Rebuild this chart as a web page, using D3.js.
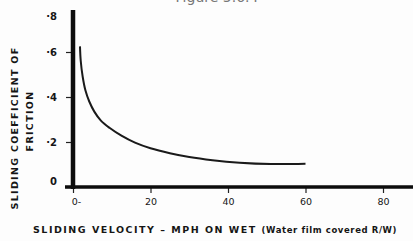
<!DOCTYPE html>
<html>
<head>
<meta charset="utf-8">
<script src="https://cdn.jsdelivr.net/npm/d3@7"></script>
<style>
  body { margin: 0; background: #fdfdfd; }
  svg { display: block; }
  text { font-family: "DejaVu Sans", sans-serif; fill: #151515; }
</style>
</head>
<body>
<div id="chart"></div>
<script>
// data
let xTicks = [0, 20, 40, 60, 80];
let yTicks = [0, 0.2, 0.4, 0.6, 0.8];
let yTickLabels = ["0", "\u00b72", "\u00b74", "\u00b76", "\u00b78"];
let velocity = [1.8, 2.0, 2.5, 3.2, 4.2, 5.5, 7.2, 9.5, 12.5, 16, 20, 25, 30, 36, 43, 51, 60];
let friction = [0.625, 0.56, 0.49, 0.43, 0.38, 0.335, 0.295, 0.262, 0.228, 0.197, 0.172, 0.150, 0.133, 0.119, 0.108, 0.102, 0.103];

let width = 413, height = 241;

let svg = d3.select("#chart").append("svg")
    .attr("width", width)
    .attr("height", height);

let x = d3.scaleLinear().domain([0, 80]).range([73, 383]);
let y = d3.scaleLinear().domain([0, 0.6]).range([187, 52]);

// figure title, cut by the top edge like in the scan
svg.append("text")
    .attr("x", 217).attr("y", 2)
    .attr("text-anchor", "middle")
    .style("font-size", "14px")
    .style("fill", "#777")
    .text("Figure 5.6.4");

// x axis ticks + labels
let xAxis = d3.axisBottom(x)
    .tickValues(xTicks)
    .tickSize(6)
    .tickPadding(5)
    .tickFormat(function (d) { return d === 0 ? "0-" : d; });

let gx = svg.append("g")
    .attr("transform", "translate(0," + y(0) + ")")
    .call(xAxis);
gx.select(".domain").remove();
gx.selectAll("line").attr("stroke", "#222").attr("stroke-width", 1.2);
gx.selectAll("text").style("font-size", "9.5px").attr("dx", function (d) { return d === 0 ? 3 : 0; });

// y axis ticks + labels
let yAxis = d3.axisLeft(y)
    .tickValues(yTicks)
    .tickSize(7)
    .tickPadding(9)
    .tickFormat(function (d, i) { return yTickLabels[i]; });

let gy = svg.append("g")
    .attr("transform", "translate(" + x(0) + ",0)")
    .call(yAxis);
gy.select(".domain").remove();
gy.selectAll("line").attr("stroke", "#222").attr("stroke-width", 1.2)
    .attr("display", function (d) { return d === 0.8 ? "none" : null; });
gy.selectAll("text").style("font-size", "10px").style("font-weight", "bold")
    .attr("dy", function (d) { return d === 0.8 ? "1.2em" : (d === 0 ? "-0.25em" : "0.32em"); });

// heavy axis lines
svg.append("line")
    .attr("x1", x(0)).attr("x2", x(0))
    .attr("y1", y(0.8) + 3).attr("y2", y(0) + 2)
    .attr("stroke", "#0d0d0d").attr("stroke-width", 4.5);
svg.append("line")
    .attr("x1", x(0) - 8).attr("x2", width)
    .attr("y1", y(0)).attr("y2", y(0))
    .attr("stroke", "#0d0d0d").attr("stroke-width", 3.5);

// friction curve
let pts = velocity.map(function (v, i) { return [v, friction[i]]; });
let line = d3.line()
    .x(function (d) { return x(d[0]); })
    .y(function (d) { return y(d[1]); })
    .curve(d3.curveCatmullRom.alpha(0.5));

svg.append("path")
    .datum(pts)
    .attr("fill", "none")
    .attr("stroke", "#1a1a1a")
    .attr("stroke-width", 2)
    .attr("d", line);

// axis titles
let xt = svg.append("text")
    .attr("x", 33).attr("y", 233)
    .style("font-weight", "bold");
xt.append("tspan").style("font-size", "9.5px").style("letter-spacing", "1.5px")
    .text("SLIDING  VELOCITY \u2013 MPH  ON  WET ");
xt.append("tspan").style("font-size", "8.5px").style("letter-spacing", "0.6px")
    .text("(Water film covered R/W)");

svg.append("text")
    .attr("transform", "translate(18,128) rotate(-90)")
    .attr("text-anchor", "middle")
    .style("font-size", "9.5px").style("font-weight", "bold").style("letter-spacing", "1.3px")
    .text("SLIDING COEFFICIENT OF");
svg.append("text")
    .attr("transform", "translate(33,121) rotate(-90)")
    .attr("text-anchor", "middle")
    .style("font-size", "9.5px").style("font-weight", "bold").style("letter-spacing", "1.3px")
    .text("FRICTION");
</script>
</body>
</html>
